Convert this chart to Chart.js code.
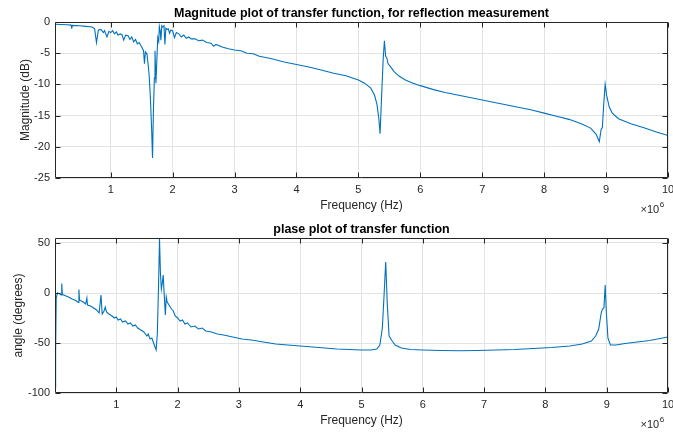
<!DOCTYPE html>
<html>
<head>
<meta charset="utf-8">
<script src="https://cdn.jsdelivr.net/npm/chart.js@4"></script>
<style>
  html, body { margin: 0; padding: 0; background: #fff; }
  #wrap { position: relative; width: 673px; height: 432px; overflow: hidden; }
  canvas { position: absolute; left: 0; }
</style>
</head>
<body>
<div id="wrap">
  <canvas id="magChart" width="673" height="216" style="top:0px"></canvas>
  <canvas id="phaseChart" width="673" height="216" style="top:216px"></canvas>
</div>
<script>
// ---------- DATA (frequency in units of 10^6 Hz) ----------
const magTitle = "Magnitude plot of transfer function, for reflection measurement";
const phaseTitle = "plase plot of transfer function";
const xAxisLabel = "Frequency (Hz)";
const magAxisLabel = "Magnitude (dB)";
const phaseAxisLabel = "angle (degrees)";

const xTicks = [1, 2, 3, 4, 5, 6, 7, 8, 9, 10];
const magTicks = [-25, -20, -15, -10, -5, 0];
const phaseTicks = [-100, -50, 0, 50];

const magFreq = [0.10,0.20,0.30,0.36,0.37,0.38,0.50,0.60,0.70,0.74,0.77,0.80,0.84,0.88,0.90,0.94,0.97,1.00,1.03,1.06,
  1.09,1.12,1.15,1.18,1.21,1.24,1.28,1.31,1.34,1.37,1.40,1.43,1.46,1.50,1.53,1.545,1.56,1.585,1.605,1.62,
  1.64,1.66,1.675,1.69,1.705,1.715,1.73,1.745,1.76,1.775,1.785,1.80,1.81,1.825,1.84,1.86,1.875,1.89,1.91,1.93,
  1.95,1.97,2.00,2.03,2.06,2.10,2.14,2.18,2.22,2.26,2.30,2.36,2.42,2.48,2.55,2.62,2.66,2.70,2.80,2.90,
  3.00,3.10,3.20,3.30,3.40,3.60,3.80,4.00,4.20,4.40,4.60,4.80,5.00,5.10,5.20,5.26,5.30,5.33,5.35,5.37,
  5.40,5.42,5.44,5.46,5.48,5.52,5.58,5.66,5.76,5.88,6.00,6.20,6.40,6.60,6.80,7.00,7.20,7.40,7.60,7.80,
  8.00,8.20,8.40,8.60,8.75,8.84,8.89,8.92,8.94,8.96,8.985,9.01,9.05,9.10,9.20,9.40,9.60,9.80,10.00];
const magDb = [-0.35,-0.40,-0.45,-0.50,-1.05,-0.55,-0.60,-0.70,-0.80,-1.10,-3.30,-1.30,-1.20,-1.70,-1.40,-2.40,-1.50,-1.70,-1.40,-1.90,
  -1.60,-2.10,-1.90,-2.00,-2.90,-2.10,-2.20,-2.80,-2.40,-3.20,-2.80,-3.50,-3.30,-4.00,-4.60,-6.70,-4.80,-5.10,-6.90,-8.50,
  -12.0,-17.0,-21.8,-14.0,-9.0,-4.6,-9.8,-6.0,-2.5,-3.1,-0.7,-1.5,-2.9,-0.6,-0.8,-0.6,-3.6,-1.0,-1.2,-1.1,
  -1.8,-1.3,-1.4,-2.5,-1.7,-1.9,-2.4,-2.1,-2.6,-2.4,-2.7,-2.7,-3.0,-2.9,-3.3,-3.4,-3.9,-3.6,-4.0,-4.3,
  -4.5,-4.6,-5.0,-5.1,-5.5,-5.9,-6.4,-6.8,-7.2,-7.7,-8.2,-8.6,-9.3,-9.8,-10.6,-11.7,-13.2,-15.5,-17.9,-13.0,
  -6.0,-3.0,-5.5,-5.8,-6.7,-7.2,-8.0,-8.7,-9.3,-9.8,-10.2,-10.8,-11.3,-11.7,-12.1,-12.5,-12.9,-13.3,-13.7,-14.1,
  -14.6,-15.1,-15.6,-16.3,-17.0,-18.0,-19.2,-17.2,-16.9,-13.5,-10.0,-11.8,-13.6,-14.6,-15.5,-16.3,-16.9,-17.6,-18.2];

const phaseFreq = [0.00,0.01,0.02,0.04,0.08,0.10,0.11,0.12,0.16,0.22,0.28,0.34,0.38,0.39,0.40,0.46,0.50,0.52,0.53,0.58,
  0.63,0.68,0.72,0.75,0.77,0.80,0.82,0.84,0.88,0.93,0.97,1.00,1.03,1.07,1.10,1.15,1.19,1.23,1.27,1.31,
  1.35,1.40,1.45,1.50,1.52,1.55,1.58,1.62,1.65,1.67,1.69,1.705,1.72,1.735,1.75,1.765,1.78,1.80,1.815,1.83,
  1.86,1.90,1.93,1.96,2.00,2.04,2.08,2.12,2.16,2.22,2.28,2.34,2.40,2.46,2.55,2.65,2.75,2.90,3.05,3.20,
  3.40,3.60,3.80,4.00,4.20,4.40,4.60,4.80,5.00,5.15,5.25,5.30,5.34,5.37,5.395,5.42,5.45,5.50,5.55,5.65,
  5.80,6.00,6.30,6.60,6.90,7.20,7.50,7.80,8.10,8.40,8.60,8.75,8.82,8.87,8.91,8.93,8.955,8.975,8.995,9.02,
  9.06,9.15,9.30,9.50,9.70,10.00];
const phaseDeg = [-95,-60,-5,0,-1,-2,9.5,-1.5,-2.5,-4,-6,-7.5,-9.5,3.5,-7,-9,-11,-5,-12,-13,
  -15,-17,-20,-2,-21,-18,-14,-19,-21,-23,-25,-24,-27,-26,-29,-28,-31,-30,-33,-32,
  -35,-37,-39,-43,-41,-46,-45,-52,-57,-40,10,54,20,4,10,18,0,-22,-4,-9,
  -12,-16,-18,-23,-25,-28,-27,-31,-30,-34,-33,-36,-35,-38,-39,-41,-42,-44,-46,-47,
  -49,-51,-52,-53,-54,-55,-56,-56.5,-57,-57,-56,-52,-35,0,31,-10,-43,-48,-52,-55,
  -56.5,-57,-57.5,-57.8,-57.5,-57,-56.5,-55.5,-54.5,-53,-51,-48,-43,-36,-20,-16,-15,8,-20,-45,
  -52,-52,-50.5,-49,-47.5,-44];

// ---------- STYLE ----------
const FONT = "'Liberation Sans', Arial, Helvetica, sans-serif";
const LINE_COLOR = '#0072BD';
const AXIS_COLOR = '#262626';
const GRID_COLOR = '#e3e3e3';

const boxPlugin = {
  id: 'matlabBox',
  afterDraw(chart) {
    const {ctx, chartArea: a, scales} = chart;
    ctx.save();
    ctx.strokeStyle = AXIS_COLOR;
    ctx.lineWidth = 1;
    const L = Math.round(a.left) + 0.5, R = Math.round(a.right) - 0.5;
    const T = Math.round(a.top) + 0.5, B = Math.round(a.bottom) - 0.5;
    ctx.beginPath();
    ctx.rect(L, T, R - L, B - T);
    const tl = 5;
    scales.x.ticks.forEach(t => {
      const px = Math.round(scales.x.getPixelForValue(t.value)) + 0.5;
      ctx.moveTo(px, B); ctx.lineTo(px, B - tl);
      ctx.moveTo(px, T); ctx.lineTo(px, T + tl);
    });
    scales.y.ticks.forEach(t => {
      const py = Math.round(scales.y.getPixelForValue(t.value)) + 0.5;
      ctx.moveTo(L, py); ctx.lineTo(L + tl, py);
      ctx.moveTo(R, py); ctx.lineTo(R - tl, py);
    });
    ctx.stroke();
    // exponent label x10^6
    ctx.fillStyle = AXIS_COLOR;
    ctx.textBaseline = 'alphabetic';
    ctx.textAlign = 'left';
    ctx.font = '11px ' + FONT;
    const bx = R - 27, by = B + 35;
    ctx.fillText('\u00d710', bx, by);
    const w = ctx.measureText('\u00d710').width;
    ctx.font = '8px ' + FONT;
    ctx.fillText('6', bx + w + 0.5, by - 6);
    ctx.restore();
  }
};

function makeChart(id, freq, vals, cfg) {
  const pts = freq.map((f, i) => ({x: f, y: vals[i]}));
  return new Chart(document.getElementById(id), {
    type: 'line',
    data: { datasets: [{ data: pts, borderColor: LINE_COLOR, borderWidth: 1.1, pointRadius: 0, tension: 0, fill: false }] },
    options: {
      responsive: false,
      animation: false,
      devicePixelRatio: 1,
      layout: { padding: { left: 0, right: 5, top: 0, bottom: 0 } },
      plugins: {
        legend: { display: false },
        tooltip: { enabled: false },
        title: { display: true, fullSize: false, text: cfg.title, color: '#000', font: { family: FONT, size: 12.5, weight: 'bold' }, padding: { top: 6, bottom: 1 } }
      },
      scales: {
        x: {
          type: 'linear', min: cfg.xmin, max: 10,
          afterBuildTicks: s => { s.ticks = xTicks.map(v => ({value: v})); },
          afterFit: s => { s.height = cfg.xh; s.paddingRight = 0; s.paddingLeft = 0; },
          ticks: { color: AXIS_COLOR, font: { family: FONT, size: 11 }, padding: 5, maxRotation: 0, autoSkip: false, callback: v => String(v) },
          grid: { color: GRID_COLOR, drawTicks: false },
          border: { display: false },
          title: { display: true, text: xAxisLabel, color: AXIS_COLOR, font: { family: FONT, size: 12 }, padding: { top: 0, bottom: cfg.xtpad } }
        },
        y: {
          type: 'linear', min: cfg.ymin, max: cfg.ymax,
          afterBuildTicks: s => { s.ticks = cfg.yticks.map(v => ({value: v})); },
          afterFit: s => { s.width = 55; },
          ticks: { color: AXIS_COLOR, font: { family: FONT, size: 11 }, padding: 5, autoSkip: false, callback: v => String(v) },
          grid: { color: GRID_COLOR, drawTicks: false },
          border: { display: false },
          title: { display: true, text: cfg.ylabel, color: AXIS_COLOR, font: { family: FONT, size: 12 }, padding: { top: cfg.ytpad, bottom: 0 } }
        }
      }
    },
    plugins: [boxPlugin]
  });
}

makeChart('magChart', magFreq, magDb, { title: magTitle, ylabel: magAxisLabel, xmin: 0.1, ymin: -25, ymax: 0, yticks: magTicks, xh: 38, xtpad: 3, ytpad: 18 });
makeChart('phaseChart', phaseFreq, phaseDeg, { title: phaseTitle, ylabel: phaseAxisLabel, xmin: 0, ymin: -100, ymax: 55, yticks: phaseTicks, xh: 39, xtpad: 4, ytpad: 11 });
</script>
</body>
</html>
